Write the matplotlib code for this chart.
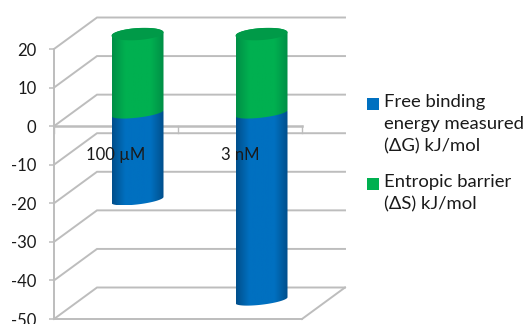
import numpy as np
import matplotlib
matplotlib.use("Agg")
import matplotlib.pyplot as plt
from matplotlib.colors import LinearSegmentedColormap
from matplotlib.patches import Rectangle
from matplotlib.path import Path

plt.rcParams["font.family"] = ["Lato", "DejaVu Sans"]

categories = ["100 µM", "3 nM"]
free_energy = [-22.5, -48.5]
entropic_barrier = [20.5, 20.5]
y_ticks = [20, 10, 0, -10, -20, -30, -40, -50]
legend_labels = ["Free binding\nenergy measured\n(ΔG) kJ/mol", "Entropic barrier\n(ΔS) kJ/mol"]

W, H = 525, 324
GRID = "#bdbdbd"
BLUE = "#0070c0"
GREEN = "#00b050"
TEXT = "#1a1a1a"

fig = plt.figure(figsize=(W / 100, H / 100), dpi=100)
ax = fig.add_axes([54 / W, 1 - 319 / H, 248 / W, 270 / H])

# unit sizes, used to turn pixel offsets of the 3d look into data units
px_x = 2 / 248
px_y = 70 / 270
depth_x = 43 * px_x
depth_y = 31.5 * px_y
bar_rise = 13 * px_y

# y axis and walls
for s in ["top", "right"]:
    ax.spines[s].set_visible(False)
for s in ["left", "bottom"]:
    ax.spines[s].set_color(GRID)
    ax.spines[s].set_linewidth(1.4)
ax.set_yticks(y_ticks)
ax.set_yticklabels([str(v) for v in y_ticks], fontsize=12, color=TEXT)
ax.tick_params(axis="y", length=3.6, width=1.1, color=GRID, pad=9)
ax.set_xticks([])

for v in y_ticks:
    ax.plot([0, depth_x, 2 + depth_x], [v, v + depth_y, v + depth_y],
            color=GRID, lw=1.4, clip_on=False, zorder=1, solid_joinstyle="miter")
ax.plot([2, 2 + depth_x], [-50, -50 + depth_y], color=GRID, lw=1.4, clip_on=False, zorder=1)

# category axis at zero
ax.plot([0, 2], [0, 0], color=GRID, lw=1.8, clip_on=False, zorder=1)
for x in [0, 1, 2]:
    ax.plot([x, x], [0, -7 * px_y], color=GRID, lw=1.0, clip_on=False, zorder=1)


def cap_points(cx, v, start=0.0, stop=2 * np.pi, tilt=3.0, ry=4.5):
    # tilted ellipse for the end of a cylinder
    t = np.linspace(start, stop, 60)
    x = cx + 26 * px_x * np.cos(t)
    y = v + bar_rise + (ry * np.sin(t) + tilt * np.cos(t)) * px_y
    return x, y


def cylinder(cx, low, high, color, edge, zorder):
    xb, yb = cap_points(cx, low, np.pi, 2 * np.pi)
    xt, yt = cap_points(cx, high, 0, np.pi, tilt=1.7, ry=6)
    verts = np.column_stack([np.r_[xb, xt], np.r_[yb, yt]])
    outline = Path(np.vstack([verts, verts[:1]]))
    cmap = LinearSegmentedColormap.from_list("cyl", [edge, color, color, color, edge])
    grad = np.linspace(0, 1, 64).reshape(1, -1)
    im = ax.imshow(grad, cmap=cmap, aspect="auto", zorder=zorder,
                   extent=[cx - 26 * px_x, cx + 26 * px_x, verts[:, 1].min(), verts[:, 1].max()])
    im.set_clip_box(fig.bbox)
    im.set_clip_path(outline, transform=ax.transData)


for i in range(len(categories)):
    cx = i + 0.5 + depth_x / 2
    cylinder(cx, free_energy[i], 0, BLUE, "#004f8c", 2)
    cylinder(cx, 0, entropic_barrier[i], GREEN, "#008f46", 3)
    x, y = cap_points(cx, entropic_barrier[i], tilt=1.7, ry=6)
    ax.fill(x, y, color="#009a48", zorder=4, clip_on=False, lw=0)

ax.set_xlim(0, 2)
ax.set_ylim(-50, 20)

for i, name in enumerate(categories):
    ax.text(i + 0.5, -7.4, name, ha="center", va="center", fontsize=12, color=TEXT, zorder=6)

# legend
tops = [98, 178]
colors = [BLUE, GREEN]
for top, col, label in zip(tops, colors, legend_labels):
    fig.add_artist(Rectangle((367 / W, 1 - (top + 12) / H), 12 / W, 12 / H,
                             transform=fig.transFigure, facecolor=col, edgecolor="none"))
    fig.text(384 / W, 1 - (top - 4) / H, label, ha="left", va="top", fontsize=13.3,
             color=TEXT, linespacing=1.47)

fig.savefig("out.png", dpi=100)
